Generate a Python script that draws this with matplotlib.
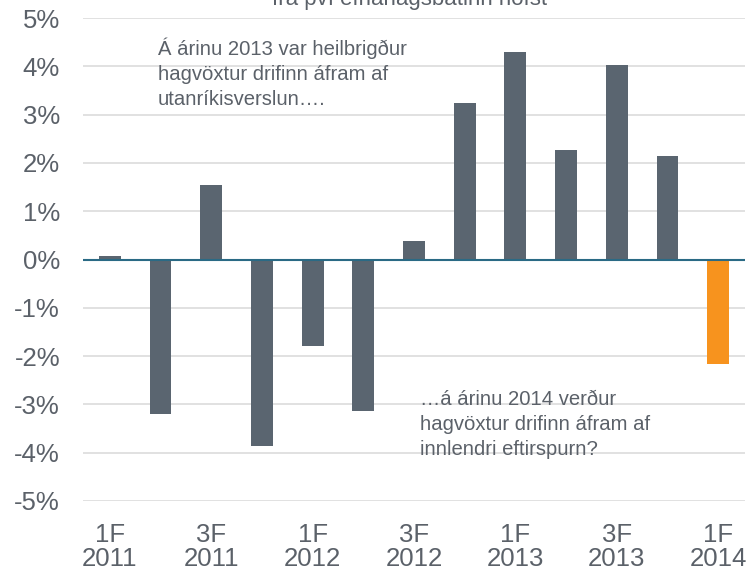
import matplotlib
matplotlib.use("Agg")
import matplotlib.pyplot as plt
import numpy as np

plt.rcParams["font.family"] = ["Liberation Sans", "DejaVu Sans"]

quarters = ["1F\n2011", "2F\n2011", "3F\n2011", "4F\n2011",
            "1F\n2012", "2F\n2012", "3F\n2012", "4F\n2012",
            "1F\n2013", "2F\n2013", "3F\n2013", "4F\n2013",
            "1F\n2014"]
growth = [0.08, -3.2, 1.55, -3.87, -1.8, -3.13, 0.39, 3.23, 4.29, 2.26, 4.02, 2.15, -2.17]
bar_colors = ["#5a6570"] * 12 + ["#f7931e"]

text_color = "#5b6169"

fig = plt.figure(figsize=(7.55, 5.75), dpi=100)
ax = fig.add_axes([83 / 755, 1 - 501 / 575, 662 / 755, 483 / 575])

x = np.arange(len(growth))
ax.bar(x, growth, width=0.43, color=bar_colors, zorder=3)
ax.axhline(0, color="#2a6a85", lw=1.5, zorder=4)

ax.set_xlim(-0.53, len(growth) - 0.47)
ax.set_ylim(-5, 5)
yt = np.arange(-5, 6)
ax.set_yticks(yt)
ax.set_yticklabels([f"{v}%" for v in yt], fontsize=18.5, color=text_color)
ax.set_xticks(x[::2])
ax.set_xticklabels(quarters[::2], fontsize=18.5, color=text_color, linespacing=1.0)
ax.tick_params(length=0)
ax.tick_params(axis="x", pad=16)
ax.tick_params(axis="y", pad=16.5)
ax.grid(axis="y", color="#dcdcdc", lw=1.2, zorder=0)
for s in ax.spines.values():
    s.set_visible(False)

ax.text(0.95, 4.6, "Á árinu 2013 var heilbrigður\nhagvöxtur drifinn áfram af\nutanríkisverslun….",
        fontsize=14.6, color=text_color, va="top", ha="left", linespacing=1.4)
ax.text(6.12, -2.7, "…á árinu 2014 verður\nhagvöxtur drifinn áfram af\ninnlendri eftirspurn?",
        fontsize=14.6, color=text_color, va="top", ha="left", linespacing=1.4)

fig.text(410 / 755, 1.0, "frá því efnahagsbatinn hófst", fontsize=16, color=text_color,
         ha="center", va="center")

fig.savefig("out.png", dpi=100)
